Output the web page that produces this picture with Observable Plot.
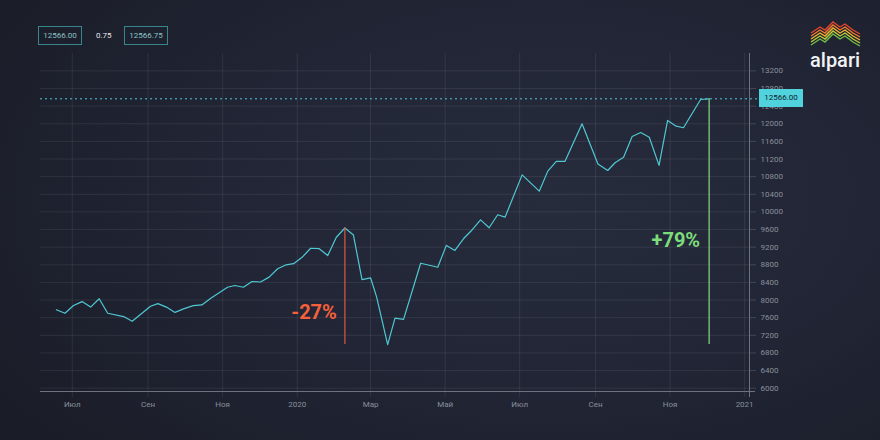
<!DOCTYPE html>
<html><head><meta charset="utf-8">
<script src="https://cdn.jsdelivr.net/npm/d3@7"></script>
<script src="https://cdn.jsdelivr.net/npm/@observablehq/plot@0.6"></script>
<style>
html,body{margin:0;padding:0;}
body{width:880px;height:440px;overflow:hidden;background:radial-gradient(ellipse 75% 85% at 62% 45%, #272c3c 0%, #212535 50%, #1a1d27 100%);font-family:Roboto,"Noto Sans",sans-serif;}
#wrap{position:relative;width:880px;height:440px;}
#chart{position:absolute;left:0;top:0;}
.box{position:absolute;top:26px;height:17px;width:42px;border:1.5px solid #37868c;color:#8cc3c9;font-size:8px;line-height:17px;text-align:center;}
#spread{position:absolute;left:96px;top:26px;line-height:20px;font-size:8px;color:#e4e6ea;}
#price{position:absolute;left:759px;width:44px;height:18px;background:#50d3dd;color:#17202b;font-size:8px;line-height:18px;text-align:center;}
#logo{position:absolute;left:805px;top:15px;}
</style></head>
<body><div id="wrap">
<div id="chart"></div>
<div class="box" style="left:38px" id="bid"></div>
<div id="spread"></div>
<div class="box" style="left:124px" id="ask"></div>
<div id="price"></div>
<svg id="logo" width="70" height="60"></svg>
</div>
<script>
const dates = ["2019-06-18","2019-06-25","2019-07-02","2019-07-09","2019-07-16","2019-07-23","2019-07-30","2019-08-12","2019-08-19","2019-09-03","2019-09-09","2019-09-16","2019-09-23","2019-09-30","2019-10-08","2019-10-15","2019-10-22","2019-11-05","2019-11-11","2019-11-18","2019-11-25","2019-12-02","2019-12-09","2019-12-16","2019-12-23","2019-12-29","2020-01-05","2020-01-12","2020-01-19","2020-01-26","2020-02-02","2020-02-09","2020-02-16","2020-02-23","2020-03-01","2020-03-06","2020-03-15","2020-03-21","2020-03-28","2020-04-11","2020-04-25","2020-05-02","2020-05-09","2020-05-16","2020-05-23","2020-05-30","2020-06-06","2020-06-13","2020-06-19","2020-07-03","2020-07-17","2020-07-24","2020-07-31","2020-08-07","2020-08-21","2020-09-03","2020-09-11","2020-09-17","2020-09-24","2020-10-01","2020-10-08","2020-10-15","2020-10-23","2020-10-30","2020-11-06","2020-11-12","2020-11-26","2020-12-03"];
const values = [7780,7700,7875,7965,7840,8030,7700,7625,7520,7860,7920,7840,7720,7800,7875,7890,8035,8290,8330,8290,8420,8410,8520,8710,8800,8825,8970,9175,9165,9010,9425,9635,9475,8465,8505,8065,6990,7590,7560,8835,8745,9240,9125,9390,9590,9820,9640,9935,9880,10840,10470,10925,11145,11145,12000,11085,10940,11115,11240,11710,11800,11695,11055,12075,11945,11910,12550,12566];
const xTickDates = ["2019-07-01","2019-09-01","2019-11-01","2020-01-01","2020-03-01","2020-05-01","2020-07-01","2020-09-01","2020-11-01","2021-01-01"];
const xTickLabels = ["Июл","Сен","Ноя","2020","Мар","Май","Июл","Сен","Ноя","2021"];
const yTicks = [6000,6400,6800,7200,7600,8000,8400,8800,9200,9600,10000,10400,10800,11200,11600,12000,12400,12800,13200];
const xDomain = ["2019-06-05","2021-01-05"];
const yDomain = [5925, 13594];
const quote = {bid: "12566.00", spread: "0.75", ask: "12566.75"};
const changeLabels = ["-27%", "+79%"];

const data = dates.map((d, i) => ({date: new Date(d), value: values[i]}));
const xt = xTickDates.map(d => new Date(d));
const labelMap = new Map(xt.map((d, i) => [+d, xTickLabels[i]]));
const troughIdx = d3.minIndex(data, d => d.value);
const trough = data[troughIdx];
const peak = data[d3.maxIndex(data.slice(0, troughIdx), d => d.value)];
const last = data[data.length - 1];

const cyan = "#4fc8d3";
const plot = Plot.plot({
  width: 880, height: 440,
  marginLeft: 40, marginRight: 131, marginTop: 53, marginBottom: 49,
  style: {background: "transparent", fontFamily: "Roboto, sans-serif", overflow: "visible"},
  x: {type: "utc", domain: xDomain.map(d => new Date(d)), label: null},
  y: {domain: yDomain, label: null},
  marks: [
    Plot.gridY(yTicks, {stroke: "#ffffff", strokeOpacity: 0.08}),
    Plot.gridX(xt, {stroke: "#ffffff", strokeOpacity: 0.08, insetBottom: -6}),
    Plot.axisX(xt, {label: null, tickSize: 0, tickPadding: 10, tickFormat: d => labelMap.get(+d), fill: "#8a8f9c", fontSize: 8}),
    Plot.axisY(yTicks, {label: null, anchor: "right", tickSize: 6, tickPadding: 5, stroke: "#ffffff", strokeOpacity: 0.15, fill: "#8a8f9c", fontSize: 8, tickFormat: d => String(d)}),
    Plot.ruleX([new Date(xDomain[1])], {stroke: "#6d7280", insetBottom: -6}),
    Plot.ruleY([yDomain[0]], {stroke: "#6d7280", insetRight: -6}),
    Plot.ruleY([last.value], {stroke: cyan, strokeDasharray: "2,3", insetRight: -10}),
    Plot.line(data, {x: "date", y: "value", stroke: cyan, strokeWidth: 1.2}),
    Plot.ruleX([peak], {x: "date", y1: trough.value, y2: "value", stroke: "#de573e", strokeWidth: 1.2}),
    Plot.ruleX([last], {x: "date", y1: trough.value, y2: "value", stroke: "#72b873", strokeWidth: 1.5}),
    Plot.text([peak], {x: "date", y: d => trough.value + 0.275 * (d.value - trough.value), text: () => changeLabels[0], textAnchor: "end", dx: -8, fill: "#f5603b", fontSize: 20, fontWeight: "bold"}),
    Plot.text([last], {x: "date", y: d => trough.value + 0.423 * (d.value - trough.value), text: () => changeLabels[1], textAnchor: "end", dx: -9, fill: "#7ddc7a", fontSize: 20, fontWeight: "bold"})
  ]
});
document.getElementById("chart").append(plot);

document.getElementById("bid").textContent = quote.bid;
document.getElementById("spread").textContent = quote.spread;
document.getElementById("ask").textContent = quote.ask;
const priceEl = document.getElementById("price");
priceEl.textContent = last.value.toFixed(2);
priceEl.style.top = (plot.scale("y").apply(last.value) - 9.5) + "px";

// logo
const logo = d3.select("#logo");
const zig = [[6,18],[15,12],[20,15],[28,7],[35,12],[40,9],[48,15],[55,19]];
const logoColors = ["#e6432c","#f07b2b","#f4b42f","#bccd3b","#6fbb46"];
logoColors.forEach((c, i) => {
  logo.append("polyline").attr("points", zig.map(p => p[0] + "," + (p[1] + i * 3)).join(" "))
    .attr("fill", "none").attr("stroke", c).attr("stroke-width", 1.4).attr("stroke-linejoin", "miter");
});
logo.append("text").attr("x", 5).attr("y", 52).attr("fill", "#f1f2f4").attr("font-size", 20)
  .attr("font-family", "Roboto, sans-serif").attr("font-weight", 500).text("alpari");
</script>
</body></html>
